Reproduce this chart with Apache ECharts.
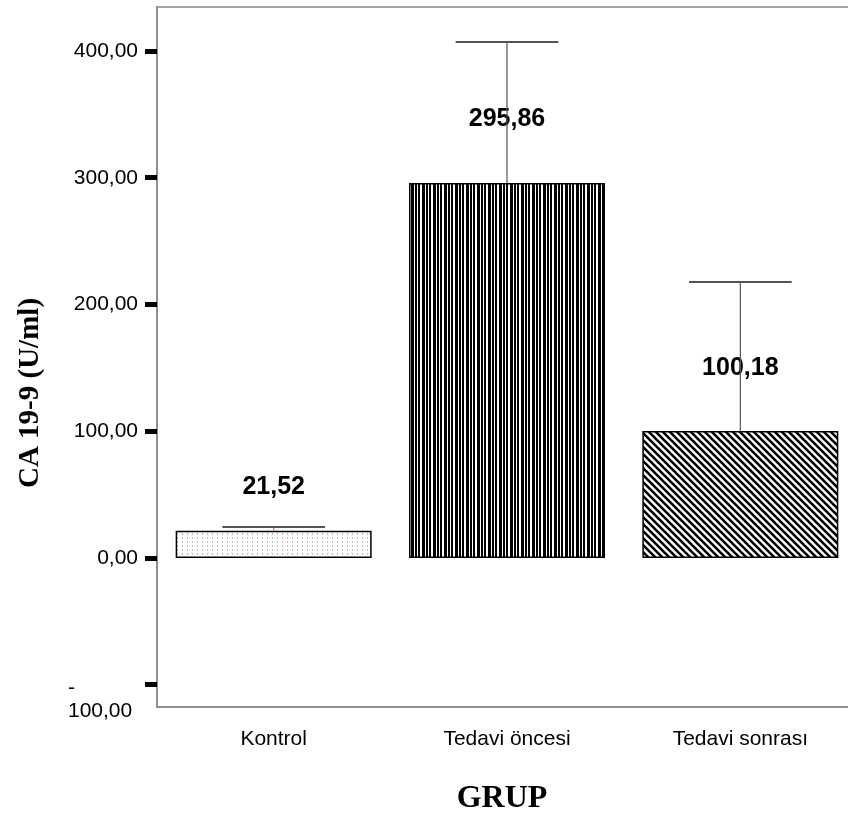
<!DOCTYPE html>
<html><head><meta charset="utf-8">
<script src="https://cdn.jsdelivr.net/npm/echarts@6/dist/echarts.min.js"></script>
<style>html,body{margin:0;padding:0;background:#fff}#c{width:848px;height:820px}</style>
</head><body><div id="c"></div>
<script>
const categories = ['Kontrol', 'Tedavi öncesi', 'Tedavi sonrası'];
const means = [21.52, 295.86, 100.18];
const upperErr = [24.5, 407.1, 217.8];
const valueLabels = ['21,52', '295,86', '100,18'];
const yTicks = [-100, 0, 100, 200, 300, 400];

function mk(w, h, draw) { const c = document.createElement('canvas'); c.width = w; c.height = h; const g = c.getContext('2d'); draw(g); return c; }
const dots = mk(5, 4, g => { g.fillStyle = '#fbfbfb'; g.fillRect(0,0,5,4); g.fillStyle = '#bdbdbd'; g.fillRect(2,1,1,2); });
const vstripes = mk(11, 4, g => { g.fillStyle = '#fff'; g.fillRect(0,0,11,4); g.fillStyle = '#000';
  [0,1,4,5,6,8,9].forEach(x => g.fillRect(x,0,1,4)); });
const diag = mk(7, 7, g => { g.fillStyle = '#fff'; g.fillRect(0,0,7,7); g.strokeStyle = '#000'; g.lineWidth = 2.6;
  for (const o of [-7, 0, 7]) { g.beginPath(); g.moveTo(o - 1, -1); g.lineTo(o + 8, 8); g.stroke(); } });
const patterns = [dots, vstripes, diag];
const labelDist = [31, 51, 50];
const stemColors = ['#e07070', '#555', '#555'];

const fmt = v => v.toFixed(2).replace('.', ',');
const chart = echarts.init(document.getElementById('c'));
chart.setOption({
  backgroundColor: '#fff',
  animation: false,
  grid: { left: 157, top: 7, width: 700, bottom: 113, show: true, borderColor: '#888', borderWidth: 1.5, outerBoundsMode: 'none', containLabel: false },
  xAxis: {
    type: 'category', data: categories,
    axisLine: { onZero: false, lineStyle: { color: '#888', width: 1.5 } },
    axisTick: { alignWithLabel: true, length: 15, lineStyle: { color: '#000', width: 5 } },
    axisLabel: { color: '#000', fontSize: 21, fontFamily: 'Liberation Sans, Arial', margin: 22 },
    name: 'GRUP', nameLocation: 'middle', nameGap: 76,
    nameTextStyle: { color: '#000', fontSize: 32, fontWeight: 'bold', fontFamily: 'Liberation Serif, Times New Roman', padding: [0, 10, 0, 0] }
  },
  yAxis: {
    type: 'value', min: -117.6, max: 434.7,
    splitLine: { show: false },
    axisLine: { show: true, lineStyle: { color: '#888', width: 1.5 } },
    axisTick: { show: true, length: 12, customValues: yTicks, lineStyle: { color: '#000', width: 5 } },
    axisLabel: {
      customValues: yTicks, color: '#000', fontSize: 21, fontFamily: 'Liberation Sans, Arial', margin: 19,
      formatter: v => v < 0 ? '{sp| }\n{neg|-}\n{neg|' + fmt(-v) + '}' : fmt(v),
      rich: {
        sp: { width: 70, lineHeight: 31, fontSize: 21 },
        neg: { width: 70, align: 'left', lineHeight: 23, fontSize: 21, color: '#000', fontFamily: 'Liberation Sans, Arial' }
      }
    },
    name: 'CA 19-9 (U/ml)', nameLocation: 'middle', nameGap: 112, nameRotate: 90,
    nameTextStyle: { color: '#000', fontSize: 29, fontWeight: 'bold', fontFamily: 'Liberation Serif, Times New Roman', padding: [0, 72, 0, 0] }
  },
  series: [
    {
      type: 'bar', barWidth: 196, z: 2,
      data: means.map((v, i) => ({
        value: v,
        itemStyle: { color: { image: patterns[i], repeat: 'repeat' }, borderColor: '#000', borderWidth: 1.5 },
        label: { show: true, position: 'top', distance: labelDist[i], formatter: valueLabels[i] }
      })),
      label: { color: '#000', fontSize: 25, fontWeight: 'bold', fontFamily: 'Liberation Sans, Arial' }
    },
    {
      type: 'custom', z: 3,
      data: categories.map((c, i) => [i, means[i], upperErr[i]]),
      renderItem: function (params, api) {
        const i = api.value(0);
        const b = api.coord([i, api.value(1)]);
        const t = api.coord([i, api.value(2)]);
        const half = api.size([1, 0])[0] * 0.22;
        return { type: 'group', children: [
          { type: 'line', shape: { x1: b[0], y1: b[1], x2: t[0], y2: t[1] }, style: { stroke: stemColors[i], lineWidth: 1.2 } },
          { type: 'line', shape: { x1: t[0] - half, y1: t[1], x2: t[0] + half, y2: t[1] }, style: { stroke: '#555', lineWidth: 2 } }
        ] };
      }
    }
  ]
});
</script></body></html>
